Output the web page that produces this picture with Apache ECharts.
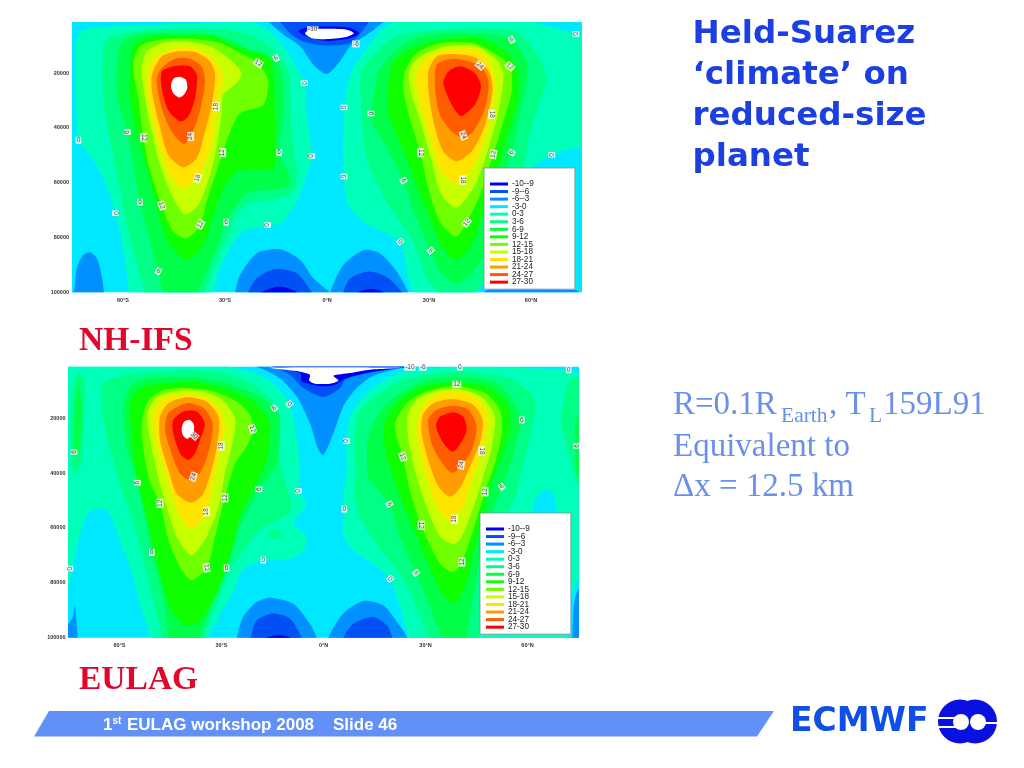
<!DOCTYPE html>
<html><head><meta charset="utf-8"><title>Held-Suarez climate on reduced-size planet</title>
<style>html,body{margin:0;padding:0;background:#fff}#c{width:1024px;height:768px}</style>
<script src="https://cdn.jsdelivr.net/npm/echarts@6/dist/echarts.min.js"></script></head>
<body><div id="c"></div>
<script>
// Legend classes and tick labels
const levelNames = ['-10--9','-9--6','-6--3','-3-0','0-3','3-6','6-9','9-12','12-15','15-18','18-21','21-24','24-27','27-30'];
const levelColors = ['#0000f0','#0050f5','#0090ff','#00e8ff','#00ffb8','#00ff84','#00ff48','#10ff00','#70ff00','#c8ff00','#ffe400','#ff9c00','#ff5c00','#ff0000'];
const latTicks = [-60,-30,0,30,60];
const latTickLabels = ['60°S','30°S','0°N','30°N','60°N'];
const pressureTicks = [20000,40000,60000,80000,100000];

// Contour outlines: each vertex is [latitude in degrees, pressure in hPa]
const domain = [[-95,-60],[95,-60],[95,1150],[-95,1150]];

// NH-IFS
const ifs0 = [
 [[-73.6,72],[-71.7,41],[-64.8,30],[-45.2,21],[-21.7,17],[-16.8,48],[-12.4,108],[-8.4,194],[-6.5,236],[-6,352],[-4.5,502],[-6,571],[-8.9,669],[-13.8,748],[-17.7,756],[-24.6,778],[-28,827],[-31.5,912],[-33.4,1000],[-33.7,1030],[-58.8,1030],[-58.4,1000],[-59.9,839],[-62.2,711],[-65.8,583],[-69.7,498],[-73.1,445],[-73.8,230]],
 [[21,5],[15.6,48],[12.6,96],[7.7,181],[5.3,291],[4.8,474],[5,577],[5.8,669],[10.7,742],[21.5,815],[23.4,924],[25.4,1000],[25.6,1030],[44.5,1030],[44.5,1000],[46,949],[48.9,815],[52.8,669],[58.7,559],[66.1,498],[74.9,467],[78,460],[78,60],[74.9,62],[73.2,57],[65.6,30],[55.8,5]]
];
const ifs3 = [
 [[-65.8,108],[-64.3,72],[-55,45],[-45.2,38],[-29.5,41],[-21.7,66],[-15.8,114],[-11.4,188],[-10.7,352],[-9.9,474],[-8.9,559],[-9.9,632],[-16.8,663],[-22.6,675],[-26.6,717],[-29,790],[-32.5,888],[-34.9,961],[-35.9,1000],[-36,1030],[-53.7,1030],[-53.5,1000],[-55,937],[-58.4,778],[-61.4,596],[-64.3,413],[-65.8,291]],
 [[10.2,194],[15.6,108],[21.5,60],[33.2,41],[47,38],[55.8,48],[62.6,145],[64.4,230],[62.2,315],[59.7,413],[57.7,547],[52.8,717],[46.2,961],[43.2,1000],[43,1030],[32,1030],[32.3,1000],[29.3,949],[25.4,815],[17.5,669],[11.7,510],[10.2,347]]
];
const ifs6 = [
 [[-61.4,121],[-58.9,72],[-52,54],[-42.3,54],[-33.4,60],[-25.6,96],[-19.7,139],[-15,145],[-13,230],[-13,352],[-14.1,490],[-11.4,559],[-11.4,614],[-15.8,626],[-22.6,632],[-26.6,681],[-29.7,744],[-32.5,839],[-35.4,924],[-37.8,1000],[-38,1030],[-48.5,1030],[-48.3,1000],[-49.6,923],[-55,671],[-58.7,415],[-61.7,291]],
 [[15.1,194],[20.5,114],[26.4,72],[34.2,54],[45,54],[54.3,78],[58.7,157],[58.7,230],[57.3,315],[54.3,490],[49.9,632],[46.2,864],[42.1,937],[38.1,967],[33.2,924],[30.5,848],[25.9,717],[22.5,592],[17.7,474],[14.1,401],[12.9,347],[14.1,255]]
];
const ifs9 = [
 [[-57.5,121],[-56,90],[-51.1,66],[-42.3,60],[-33.4,62],[-25.6,108],[-16.8,145],[-15.3,352],[-15.3,474],[-15.8,547],[-23.6,553],[-26.6,559],[-30.5,620],[-33.4,717],[-36.4,827],[-41.3,882],[-46.7,815],[-50.6,669],[-52.5,571],[-56,413],[-57.9,291]],
 [[18,347],[18,255],[19,169],[22.5,127],[28.3,94],[36.2,74],[45,74],[51.9,114],[56,181],[56,303],[53.3,413],[50.9,522],[47,669],[42.5,827],[38.1,882],[34.2,839],[29.8,717],[25.9,596],[22.5,486]]
];
const ifs12 = [
 [[-57,169],[-55,102],[-49.1,78],[-40.3,74],[-31.5,90],[-24.6,133],[-20.2,163],[-17.3,230],[-18.7,315],[-25.6,346],[-28.5,413],[-30.7,490],[-32.5,559],[-35.4,669],[-37.2,752],[-41.3,803],[-45.2,778],[-48.6,683],[-52,559],[-54,435],[-55.5,291]],
 [[22.9,194],[26.4,127],[33.2,90],[43,90],[49.9,133],[53.8,175],[54.3,267],[51.9,376],[48.9,496],[45,644],[41.1,745],[37.9,797],[33.2,742],[29.8,620],[27.5,490],[24.9,389],[22.5,267]]
];
const ifs15 = [
 [[-41.8,715],[-45.7,644],[-49.1,535],[-51.6,413],[-53.5,291],[-54.5,181],[-53,121],[-48.1,90],[-41.3,84],[-34.4,102],[-28.5,151],[-25.1,200],[-26.6,236],[-30.5,279],[-31,352],[-32.5,474],[-34.4,571],[-37.8,681]],
 [[38.1,691],[33.7,644],[30.8,522],[27.8,389],[24.4,255],[24.4,181],[28.3,133],[35.2,102],[44,102],[49.9,151],[51.9,206],[50.4,340],[47.5,474],[43.5,608]]
];
const ifs18 = [
 [[-42.3,622],[-46.2,571],[-49.1,474],[-51.6,352],[-53,230],[-51.6,157],[-47.6,123],[-42.3,105],[-36.4,121],[-32,169],[-30.7,218],[-32.5,322],[-33.9,449],[-36.4,547],[-38.1,583]],
 [[38.1,605],[34.2,571],[31.8,498],[29.3,389],[26.6,267],[26.4,194],[29.8,139],[36.2,114],[44,114],[47.9,163],[49.4,230],[48.4,350],[45.5,474],[42.1,559]]
];
const ifs21 = [
 [[-42.3,544],[-46.7,498],[-49.3,389],[-51.3,279],[-51.5,206],[-48.6,139],[-44.2,121],[-38.8,123],[-34.4,157],[-32.9,206],[-33.9,315],[-35.9,413],[-38.3,510]],
 [[38.1,522],[34.2,486],[31.8,401],[30.1,291],[29.8,194],[32.3,139],[38.1,130],[44,145],[47.9,200],[48.7,267],[46.5,389],[42.5,486]]
];
const ifs24 = [
 [[-42.1,459],[-45.7,413],[-48.6,328],[-50.1,230],[-49.1,188],[-44.7,147],[-40.3,147],[-36.9,175],[-35.9,230],[-37.4,340],[-40.1,431]],
 [[40.1,435],[36.7,413],[33.2,352],[31.8,255],[32.3,169],[37.2,147],[45,172],[47.5,230],[46.5,328],[43,413]]
];
const ifs27 = [
 [[-43.2,376],[-46.7,334],[-48.6,255],[-48.6,194],[-45.2,175],[-40.3,175],[-38.3,206],[-38.8,291],[-40.8,358]],
 [[39.4,356],[36.7,315],[34.2,236],[35.7,194],[39.1,175],[43.5,200],[45.3,248],[43.5,315]]
];
const ifsAbove30 = [
 [[-43.4,289],[-45.2,273],[-45.9,248],[-45.2,220],[-43.4,213],[-41.5,224],[-41.1,255],[-42.1,279]]
];
const ifsNeg3 = [
 [[-18,5],[-16.8,17],[-12.8,60],[-7.9,102],[-4,169],[-0.1,203],[3.8,157],[6.8,102],[11.7,60],[15.6,23],[17,5]],
 [[-27,1000],[-25.6,937],[-20.7,858],[-13.8,843],[-7.9,882],[-4,949],[-0.6,985],[0.9,1000],[1,1030],[-27.3,1030]],
 [[1.4,985],[4.8,900],[10.7,846],[15.6,858],[20.5,924],[23.9,1000],[24,1030],[1,1030]],
 [[-77,960],[-74.6,1000],[-73.6,912],[-71.7,864],[-69.7,854],[-67.7,876],[-66.3,937],[-65.6,1000],[-65.4,1030],[-77,1030]],
 [[47,992],[73,992],[74.2,1000],[75,1030],[46,1030]]
];
const ifsNeg6 = [
 [[-14.5,5],[-13.8,13],[-10.9,54],[-7,84],[-0.1,99],[6.8,90],[10.2,48],[12.2,5]],
 [[-23.1,1000],[-20.7,949],[-15.3,915],[-8.9,930],[-4.5,1000],[-4.4,1030],[-23.3,1030]],
 [[4.8,1000],[6.8,949],[12.2,924],[17.5,943],[22,1000],[22.2,1030],[4.6,1030]]
];
const ifsNeg9 = [
 [[-8.4,48],[-6.5,35],[-3,30],[6.3,33],[9.5,54],[6.8,72],[-0.1,82],[-5.5,69]],
 [[-19.2,1000],[-13.8,979],[-8.9,1000],[-8.7,1030],[-19.4,1030]],
 [[9.2,1000],[13.1,988],[16.6,1000],[16.8,1030],[9,1030]]
];
const ifsBelow10 = [
 [[-6.5,54],[-5,41],[-1.1,38],[5.8,41],[7.9,54],[5.3,69],[-0.6,76],[-4.5,72]]
];
// Contour number, latitude, hPa, text angle
const ifsContourLabels = [
 [-73.1,445,'0',0],[-58.7,415,'6',90],[-54,435,'12',-90],[-40.1,431,'24',90],[-32.6,322,'18',90],[-30.7,490,'12',90],[-14.1,490,'6',0],[-4.5,502,'0',90],[-38.1,583,'18',70],[-55,671,'6',0],[-48.6,683,'12',-70],[-62.2,711,'0',-90],[-37.2,752,'12',60],[-29.7,744,'6',0],[-17.5,754,'0',90],[-49.6,923,'6',-30],[-20.2,163,'12',-30],[-15,145,'6',30],[-6.7,236,'0',-90],
 [73.2,57,'0',90],[54.3,78,'6',30],[45,172,'24',-40],[53.8,175,'12',-40],[48.4,350,'18',-90],[40.1,427,'24',-70],[27.5,490,'12',-90],[48.9,496,'12',80],[54.3,490,'6',60],[66.1,498,'0',90],[39.9,590,'18',-90],[22.5,592,'6',-60],[5,325,'0',90],[12.9,347,'6',-90],[5,577,'0',90],[41.1,745,'12',50],[21.5,815,'0',-50],[30.5,848,'6',-50],[-4.2,41,'-10',0],[8.5,93,'-6',0]
];

// EULAG
const eul0 = [
 [[-78,5],[-31.4,5],[-20.6,36],[-14.8,72],[-10,148],[-7.9,267],[-6.9,389],[-7.4,465],[-5,516],[-8.9,583],[-5,632],[-5.9,681],[-10.8,717],[-17.7,717],[-23.6,748],[-26.5,827],[-30.9,924],[-33.9,1000],[-34,1030],[-51.5,1030],[-51,1000],[-54,876],[-56.9,742],[-58.9,681],[-61.3,596],[-63.3,541],[-65.7,529],[-68.7,541],[-70.6,583],[-72.6,669],[-73.9,748],[-75,815],[-78,830]],
 [[22.5,35],[27.4,23],[40.1,13],[56.8,16],[72.1,26],[74.8,38],[78,45],[78,1030],[25,1030],[25,1000],[22.5,888],[19.6,785],[14.7,730],[8.8,681],[5.8,620],[6.1,531],[5.8,474],[6.8,401],[6.8,352],[6.8,283],[7.8,194],[11.7,121],[16.6,72]]
];
const eulCyanInsideMint = [
 [[61.2,559],[62.2,498],[65.1,459],[67.6,474],[68.6,559],[65.6,717],[59.8,717]],
 [[72,1000],[72.7,864],[74.8,791],[78,775],[78,1030],[72,1030]]
];
const eul3 = [
 [[-65.2,84],[-63.3,60],[-55,35],[-39.3,26],[-28.5,38],[-20.6,78],[-14.8,139],[-13.3,194],[-12.8,328],[-12.3,389],[-10.3,474],[-9.4,510],[-10.3,547],[-15.7,583],[-20.6,632],[-25.5,717],[-28,766],[-31.4,876],[-33.9,949],[-35.3,1000],[-35.4,1030],[-47.6,1030],[-47.6,1000],[-49.6,888],[-53,717],[-55.4,596],[-58.9,474],[-62.8,315],[-64.8,194]],
 [[-16.7,620],[-14.8,606],[-12.3,620],[-12.8,638],[-15.2,632]],
 [[-72.4,36],[-70.2,60],[-70.6,230],[-71.1,352],[-73.1,407],[-74.1,352],[-74.1,108]],
 [[9.3,389],[9.3,230],[11.7,157],[16.6,108],[22.5,66],[32.3,38],[42.1,30],[55.8,60],[62.2,139],[60.7,267],[58.2,389],[56.8,474],[51.9,596],[48,778],[47,937],[45.5,1000],[45.5,1030],[30.8,1030],[30.8,1000],[26.4,864],[22.5,766],[12.7,608],[9.3,510]],
 [[72.5,60],[70.5,145],[70,218],[72.5,340],[74.8,437],[78,400],[78,50]]
];
const eul6 = [
 [[-57.4,96],[-55.9,72],[-51,54],[-39.3,50],[-28.5,72],[-19.7,114],[-14.5,163],[-12.8,194],[-13.3,334],[-14.8,389],[-19,459],[-20.6,498],[-24.6,596],[-28.5,746],[-32.4,864],[-36.3,1000],[-36.4,1030],[-45.7,1030],[-45.6,1000],[-47.1,864],[-50.5,689],[-54.7,435],[-57.9,303],[-58.9,169]],
 [[-72.1,72],[-71.1,169],[-72.1,328],[-73.6,340],[-73.1,169]],
 [[13.2,413],[13.2,267],[17.1,169],[22.5,108],[29.3,66],[39.2,50],[50.9,72],[54.9,121],[57.9,206],[55.8,328],[52.4,449],[48,596],[45,778],[42.1,1000],[42,1030],[34.8,1030],[34.8,1000],[27.2,764],[22.5,632],[19.4,513],[16.6,467]],
 [[74,218],[74.8,194],[78,180],[78,370],[74.8,413],[74,328]]
];
const eul9 = [
 [[-41,955],[-45.1,888],[-48.6,742],[-52,559],[-55,413],[-56.4,267],[-56.9,145],[-54,90],[-46.1,72],[-37.3,69],[-28.5,94],[-20.6,139],[-16.7,194],[-15.7,230],[-16.7,352],[-20.6,455],[-24.6,559],[-27.5,705],[-31.4,839],[-36.3,937]],
 [[17.6,230],[21.5,145],[29.4,84],[39.2,69],[49,90],[54.4,157],[54.8,243],[51.9,352],[49,449],[45,644],[41.6,815],[38.2,876],[34.3,827],[30.3,717],[25.4,571],[21.5,449],[18.6,340]]
];
const eul12 = [
 [[-20.9,239],[-22.6,303],[-26,364],[-29,490],[-31.9,632],[-34.4,745],[-38.8,790],[-42.2,742],[-45.6,644],[-48.1,510],[-50.5,449],[-52.5,352],[-53.5,230],[-52,145],[-48.1,102],[-41.2,90],[-32.4,102],[-25.5,139],[-21.6,188]],
 [[21,218],[24.5,145],[30.3,102],[39.2,82],[47.5,108],[51.9,169],[52.4,255],[50.4,364],[47.5,468],[44,608],[40.7,724],[38.2,760],[34.3,730],[28.7,590],[25.4,462],[23.3,340],[21.5,267]]
];
const eul15 = [
 [[-38.8,699],[-43.2,632],[-46.1,522],[-48.9,401],[-51,279],[-51.8,181],[-49.1,123],[-44.2,102],[-37.3,99],[-30.4,127],[-26,200],[-27,303],[-29,401],[-30.9,522],[-34.4,632]],
 [[38.2,659],[34.3,632],[30.3,522],[26.9,389],[25,279],[24.7,194],[27.4,133],[33.3,99],[40.1,94],[47,127],[50.4,194],[49.5,303],[47,413],[43.1,559],[40.1,644]]
];
const eul18 = [
 [[-38.8,602],[-42.2,559],[-44.7,474],[-47.1,376],[-49.6,255],[-49.6,169],[-46.6,127],[-40.2,113],[-34.4,127],[-30.4,169],[-29,230],[-30.1,301],[-31.9,401],[-33.9,522],[-34.9,559]],
 [[38.2,583],[34.3,547],[30.8,437],[28.4,328],[27.4,230],[29.4,151],[34.3,111],[41.1,105],[46,139],[48.5,206],[46.5,319],[44,413],[41.1,522],[38.5,568]]
];
const eul21 = [
 [[-38.8,508],[-43.2,474],[-45.6,389],[-48.1,279],[-48.1,194],[-45.6,145],[-40.2,123],[-34.4,139],[-30.9,194],[-30.9,267],[-32.4,364],[-35.3,474]],
 [[37.2,486],[33.8,449],[30.8,352],[28.9,255],[29.2,188],[32.3,145],[38.2,130],[44,151],[46.8,206],[46,291],[43.1,376],[40.1,455]]
];
const eul24 = [
 [[-38.8,428],[-42.2,401],[-44.7,328],[-46.6,243],[-45.6,181],[-40.2,145],[-35.3,163],[-32.6,218],[-33.4,303],[-35.8,389]],
 [[37.7,399],[34.3,352],[31.8,291],[30.8,206],[33.3,169],[38.2,154],[42.6,169],[45,230],[43.6,315],[40.5,376]]
];
const eul27 = [
 [[-39.8,352],[-42.2,328],[-44.2,255],[-44.2,206],[-41.2,175],[-37.3,175],[-34.9,218],[-36.3,279],[-37.8,328]],
 [[38,322],[35.3,291],[33.1,230],[34.3,194],[38.2,179],[41.1,194],[42.1,243],[40.1,297]]
];
const eulAbove30 = [
 [[-40,275],[-41.4,261],[-41.7,236],[-41,213],[-39.3,206],[-38.1,224],[-38.3,255]]
];
const eulNeg3 = [
 [[-24.6,5],[-19.7,12],[-12.8,54],[-7.9,121],[-4,218],[-1.5,315],[0,334],[2.9,255],[5.8,157],[9.3,96],[14.2,48],[22.5,18],[29.3,10],[29.3,5]],
 [[-25.5,1000],[-23.6,924],[-19.7,870],[-15.7,854],[-8.9,876],[-4,949],[-2,1000],[-1.9,1030],[-25.7,1030]],
 [[1.4,1000],[5.8,912],[11.7,866],[17.6,882],[22,949],[24.7,1000],[24.9,1030],[1.2,1030]],
 [[73.2,1000],[73.6,888],[74.8,827],[78,800],[78,1030],[73,1030]],
 [[-78,950],[-75,949],[-73.6,918],[-73.1,882],[-72.3,1000],[-72.3,1030],[-78,1030]]
];
const eulNeg6 = [
 [[-17,5],[-14.8,12],[-9.9,41],[-5.9,90],[0,123],[4.9,90],[6.3,60],[12.7,30],[21.5,16],[26.4,9],[26.4,5]],
 [[-21.4,1000],[-19.7,937],[-14.8,912],[-9.9,930],[-6.4,1000],[-6.2,1030],[-21.6,1030]],
 [[5.8,1000],[8.8,949],[14.7,924],[18.6,955],[20.3,1000],[20.5,1030],[5.6,1030]]
];
const eulNeg9 = [
 [[-15.5,5],[-14.8,13],[-6.9,35],[-6.4,66],[-4,75],[-2,82],[1.9,82],[3.9,75],[5.3,62],[7.8,50],[13.7,33],[22.5,17],[25,12],[25,5]],
 [[-16.7,1000],[-12.8,991],[-9.9,1000],[-9.7,1030],[-16.9,1030]]
];
const eulBelow10 = [
 [[-15.7,16],[-6.9,30],[-4,41],[-4.2,62],[-2.5,74],[1.9,74],[4.4,62],[2.9,45],[7.8,35],[13.7,23],[23.5,16]]
];
const eulContourLabels = [
 [-73.4,323,'6',90],[-74.6,748,'0',90],[-54.7,435,'6',90],[-48.1,510,'12',90],[-38.3,413,'24',70],[-30.1,301,'18',90],[-38.1,263,'30',-40],[-29,490,'12',90],[-34.4,541,'18',90],[-19,459,'6',90],[-7.4,465,'0',90],[-14.5,163,'6',40],[-10,148,'0',-50],[-20.9,239,'12',-70],[-50.5,689,'6',0],[-34.4,745,'12',-80],[-28.5,746,'6',0],[-17.7,717,'0',0],
 [6.8,283,'0',90],[39.2,76,'12',0],[58.3,206,'6',0],[46.5,319,'18',-90],[23.3,340,'12',-70],[40.5,370,'24',80],[47.5,468,'12',90],[52.4,449,'6',40],[19.4,513,'6',-60],[6.1,531,'0',0],[38.5,568,'18',90],[28.7,590,'12',-90],[40.7,724,'12',90],[27.2,764,'6',-50],[19.6,785,'0',-50],[74.5,301,'6',90],[72.1,23,'0',0],[25.4,14,'-10',0],[29.2,14,'-6',0],[40.1,14,'0',0]
];

const ifsLayers = [['-3-0',[domain]],['0-3',ifs0],['3-6',ifs3],['6-9',ifs6],['9-12',ifs9],['12-15',ifs12],['15-18',ifs15],['18-21',ifs18],['21-24',ifs21],['24-27',ifs24],['27-30',ifs27],['above 30',ifsAbove30],['-6--3',ifsNeg3],['-9--6',ifsNeg6],['-10--9',ifsNeg9],['below -10',ifsBelow10]];
const eulLayers = [['-3-0',[domain]],['0-3',eul0],['-3-0',eulCyanInsideMint],['3-6',eul3],['6-9',eul6],['9-12',eul9],['12-15',eul12],['15-18',eul15],['18-21',eul18],['21-24',eul21],['24-27',eul24],['27-30',eul27],['above 30',eulAbove30],['-6--3',eulNeg3],['-9--6',eulNeg6],['-10--9',eulNeg9],['below -10',eulBelow10]];

function colorOf(name){const i=levelNames.indexOf(name);return i<0?'#ffffff':levelColors[i];}
function layerSeries(layers,axis){
  return layers.map(function(l){
    const polys=l[1],fill=colorOf(l[0]);
    return {type:'custom',name:l[0],coordinateSystem:'cartesian2d',xAxisIndex:axis,yAxisIndex:axis,clip:true,silent:true,animation:false,
      itemStyle:{color:fill},data:polys.map(function(_,i){return [i];}),
      renderItem:function(params,api){
        const pts=polys[params.dataIndex].map(function(v){return api.coord([v[0],v[1]*100]);});
        return {type:'polygon',shape:{points:pts,smooth:0.25},style:{fill:fill}};
      }};
  });
}
function labelSeries(list,axis){
  return {type:'scatter',name:'contour labels',xAxisIndex:axis,yAxisIndex:axis,symbolSize:0,silent:true,animation:false,z:5,
    data:list.map(function(a){return {value:[a[0],a[1]*100,a[2]],label:{rotate:a[3]}};}),
    label:{show:true,position:'inside',formatter:function(p){return p.value[2];},fontSize:6.5,fontFamily:'Liberation Sans',color:'#222',backgroundColor:'#fff',padding:[0,1]}};
}
function xAxis(i){return {gridIndex:i,type:'value',min:-75,max:75,axisLine:{show:false},axisTick:{show:false},splitLine:{show:false},
  axisLabel:{customValues:latTicks,margin:5,fontSize:5.5,fontWeight:'bold',fontFamily:'Liberation Sans',color:'#333',formatter:function(v){return latTickLabels[latTicks.indexOf(v)];}}};}
function yAxis(i,top){return {gridIndex:i,type:'value',inverse:true,min:top,max:100000,axisLine:{show:false},axisTick:{show:false},splitLine:{show:false},
  axisLabel:{customValues:pressureTicks,margin:3,fontSize:5.5,fontWeight:'bold',fontFamily:'Liberation Sans',color:'#333',formatter:function(v){return String(v);}}};}
function legend(left,top){return {left:left,top:top,orient:'vertical',icon:'rect',itemWidth:18,itemHeight:3,itemGap:-0.45,padding:[12,41,3,6],
  data:levelNames,backgroundColor:'#fff',borderColor:'#7f9090',borderWidth:0.8,selectedMode:false,
  textStyle:{fontSize:8.2,lineHeight:7,fontFamily:'Liberation Sans',color:'#222',padding:[0,0,0,-1]}};}

const titleFont='bold 32.5px "DejaVu Sans"', redFont='bold 33.5px "Liberation Serif"', noteFont='33px "Liberation Serif"', subFont='21.5px "Liberation Serif"';
const titleColor='#1c3fe2', noteColor='#6a90ec', redColor='#e3062c';
function t(text,x,y,font,fill){return {type:'text',x:x,y:y,z:20,style:{text:text,font:font,fill:fill,verticalAlign:'middle',textVerticalAlign:'middle'}};}
const graphics=[
 t('Held-Suarez',692.5,35,titleFont,titleColor),
 t('\u2018climate\u2019 on',692.5,76,titleFont,titleColor),
 t('reduced-size',692.5,117,titleFont,titleColor),
 t('planet',692.5,158,titleFont,titleColor),
 t('NH-IFS',79,341,redFont,redColor),
 t('EULAG',79,680,redFont,redColor),
 t('R=0.1R',673,405,noteFont,noteColor),
 t('Earth',781,416,subFont,noteColor),
 t(', T',829,405,noteFont,noteColor),
 t('L',869,416,subFont,noteColor),
 t('159L91',883,405,noteFont,noteColor),
 t('Equivalent to',673,447,noteFont,noteColor),
 t('\u0394x = 12.5 km',673,487,noteFont,noteColor),
 {type:'polygon',z:10,shape:{points:[[34,736.5],[49,711],[774,711],[757,736.5]]},style:{fill:'#6191f7'}},
 t('1',103,725,'bold 17px "Liberation Sans"','#fff'),
 t('st',112.5,721,'bold 10px "Liberation Sans"','#fff'),
 t('EULAG workshop 2008',127,725,'bold 17px "Liberation Sans"','#fff'),
 t('Slide 46',333,725,'bold 17px "Liberation Sans"','#fff'),
 t('ECMWF',790,722,'bold 33px "DejaVu Sans"','#0f4fe6'),
 {type:'circle',z:20,shape:{cx:960,cy:721.5,r:22},style:{fill:'#0a10e0'}},
 {type:'circle',z:20,shape:{cx:975,cy:721.5,r:22},style:{fill:'#0a10e0'}},
 {type:'circle',z:21,shape:{cx:961,cy:722,r:8},style:{fill:'#fff'}},
 {type:'circle',z:21,shape:{cx:978,cy:722,r:8},style:{fill:'#fff'}},
 {type:'rect',z:21,shape:{x:937,y:717,width:20,height:2},style:{fill:'#fff'}},
 {type:'rect',z:21,shape:{x:937,y:726,width:20,height:2},style:{fill:'#fff'}},
 {type:'rect',z:21,shape:{x:984,y:722,width:15,height:2},style:{fill:'#fff'}}
];

const chart=echarts.init(document.getElementById('c'),null,{renderer:'canvas'});
chart.setOption({
  animation:false,backgroundColor:'#ffffff',
  grid:[{left:72,top:22,width:510,height:270.3},{left:68.5,top:366.7,width:510,height:271}],
  xAxis:[xAxis(0),xAxis(1)],yAxis:[yAxis(0,1300),yAxis(1,1200)],
  legend:[legend(484,168),legend(480,513)],
  series:[].concat(layerSeries(ifsLayers,0),[labelSeries(ifsContourLabels,0)],layerSeries(eulLayers,1),[labelSeries(eulContourLabels,1)]),
  graphic:{elements:graphics}
});
</script></body></html>
